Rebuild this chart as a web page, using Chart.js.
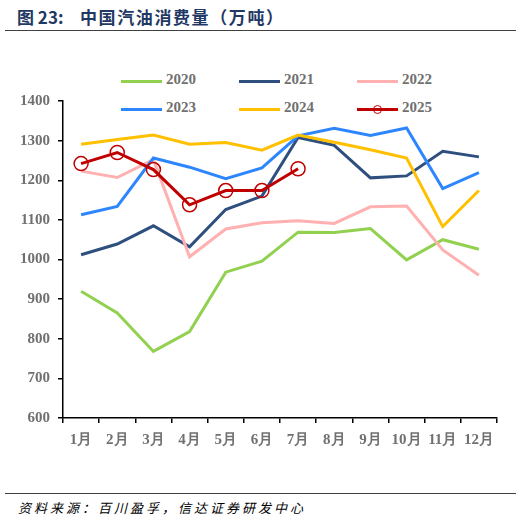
<!DOCTYPE html>
<html lang="zh">
  <head>
    <meta charset="UTF-8" />
    <script src="https://cdn.jsdelivr.net/npm/chart.js"></script>
    <title>中国汽油消费量</title>
    <style>
      body { margin: 0; width: 521px; height: 520px; background: #fff; position: relative; overflow: hidden; }
      #title { position: absolute; left: 17px; top: 4px; font: bold 17px "Noto Sans CJK SC", sans-serif; color: #1f3864; white-space: pre; }
      #title .cn { position: absolute; left: 63px; top: 0; letter-spacing: 1.6px; }
      #rule1 { position: absolute; left: 5px; top: 30px; width: 511px; height: 1px; background: #404040; }
      #rule2 { position: absolute; left: 5px; top: 493px; width: 511px; height: 1px; background: #404040; }
      #source { position: absolute; left: 18px; top: 498px; font: italic 13px "Noto Sans CJK SC", serif; color: #000; letter-spacing: 3px; }
      #legend { position: absolute; left: 121px; top: 71px; }
      .item { position: absolute; width: 120px; height: 20px; }
      .item .ln { position: absolute; left: 0; top: 9px; width: 41px; height: 3px; }
      .item .dot { position: absolute; left: 16px; top: 6px; width: 7px; height: 7px; border-radius: 50%; border: 1.5px solid #c00000; background: transparent; }
      .item span { position: absolute; left: 45px; top: 0; font: bold 15px "Liberation Serif", serif; color: #707070; }
      #wrap { position: absolute; left: 0; top: 84px; width: 521px; height: 386px; }
    </style>
  </head>
  <body>
    <div id="title">图 23:<span class="cn">中国汽油消费量（万吨）</span></div>
    <div id="rule1"></div>
    <div id="legend"></div>
    <div id="wrap"><canvas id="myChart"></canvas></div>
    <div id="rule2"></div>
    <div id="source">资料来源：百川盈孚，信达证券研发中心</div>

    <script>
      // categories and y ticks
      const months = ["1月", "2月", "3月", "4月", "5月", "6月", "7月", "8月", "9月", "10月", "11月", "12月"];
      const yMin = 600;
      const yMax = 1400;
      const yStep = 100;

      // monthly gasoline consumption (10k tons)
      const years = ["2020", "2021", "2022", "2023", "2024", "2025"];
      const v2020 = [920, 865, 768, 818, 968, 996, 1069, 1068, 1078, 999, 1050, 1026];
      const v2021 = [1012, 1039, 1085, 1032, 1126, 1160, 1308, 1288, 1206, 1211, 1273, 1259];
      const v2022 = [1223, 1207, 1252, 1007, 1077, 1093, 1098, 1091, 1133, 1135, 1024, 960];
      const v2023 = [1113, 1134, 1256, 1233, 1204, 1231, 1312, 1331, 1313, 1332, 1179, 1219];
      const v2024 = [1291, 1303, 1314, 1291, 1295, 1276, 1314, 1296, 1277, 1256, 1083, 1174];
      const v2025 = [1242, 1270, 1227, 1138, 1174, 1174, 1229];

      const seriesValues = [v2020, v2021, v2022, v2023, v2024, v2025];
      const colors = ["#92d050", "#2f4f7f", "#ffb0b0", "#2e86ff", "#ffc000", "#c00000"];

      // build the legend (3 columns, 2 rows)
      const legend = document.getElementById("legend");
      years.forEach((y, i) => {
        const item = document.createElement("div");
        item.className = "item";
        item.style.left = (i % 3) * 118 + "px";
        item.style.top = Math.floor(i / 3) * 28 + "px";
        let html = '<div class="ln" style="background:' + colors[i] + '"></div>';
        if (y === "2025") html += '<div class="dot"></div>';
        html += "<span>" + y + "</span>";
        item.innerHTML = html;
        legend.appendChild(item);
      });

      const datasets = years.map((y, i) => {
        const isLast = y === "2025";
        return {
          label: y,
          data: seriesValues[i],
          borderColor: colors[i],
          backgroundColor: "rgba(0,0,0,0)",
          borderWidth: 3,
          tension: 0,
          pointRadius: isLast ? 7 : 0,
          pointHoverRadius: isLast ? 7 : 0,
          pointBorderWidth: 1.5,
          pointBorderColor: colors[i],
          pointBackgroundColor: "rgba(0,0,0,0)",
          order: years.length - i,
        };
      });

      const tickFont = { family: "Liberation Serif", size: 15, weight: "bold" };

      const config = {
        type: "line",
        data: { labels: months, datasets: datasets },
        options: {
          responsive: false,
          animation: false,
          layout: { padding: { top: 5, right: 24, left: 0, bottom: 0 } },
          scales: {
            x: {
              offset: true,
              grid: { display: true, drawOnChartArea: false, offset: true, tickLength: 5, color: "#000", lineWidth: 1.5 },
              border: { display: true, color: "#000", width: 1.5 },
              ticks: { color: "#707070", font: tickFont, padding: 8, maxRotation: 0, autoSkip: false },
              afterFit: (scale) => { scale.height = 52; },
            },
            y: {
              min: yMin,
              max: yMax,
              grid: { display: true, drawOnChartArea: false, tickLength: 5, color: "#000", lineWidth: 1.5 },
              border: { display: true, color: "#000", width: 1.5 },
              ticks: { stepSize: yStep, color: "#707070", font: tickFont, padding: 8, callback: (v) => String(v) },
              afterFit: (scale) => { scale.width = 63; },
            },
          },
          plugins: {
            legend: { display: false },
            tooltip: { enabled: false },
          },
        },
      };

      const canvas = document.getElementById("myChart");
      canvas.width = 521;
      canvas.height = 386;
      new Chart(canvas, config);
    </script>
  </body>
</html>
